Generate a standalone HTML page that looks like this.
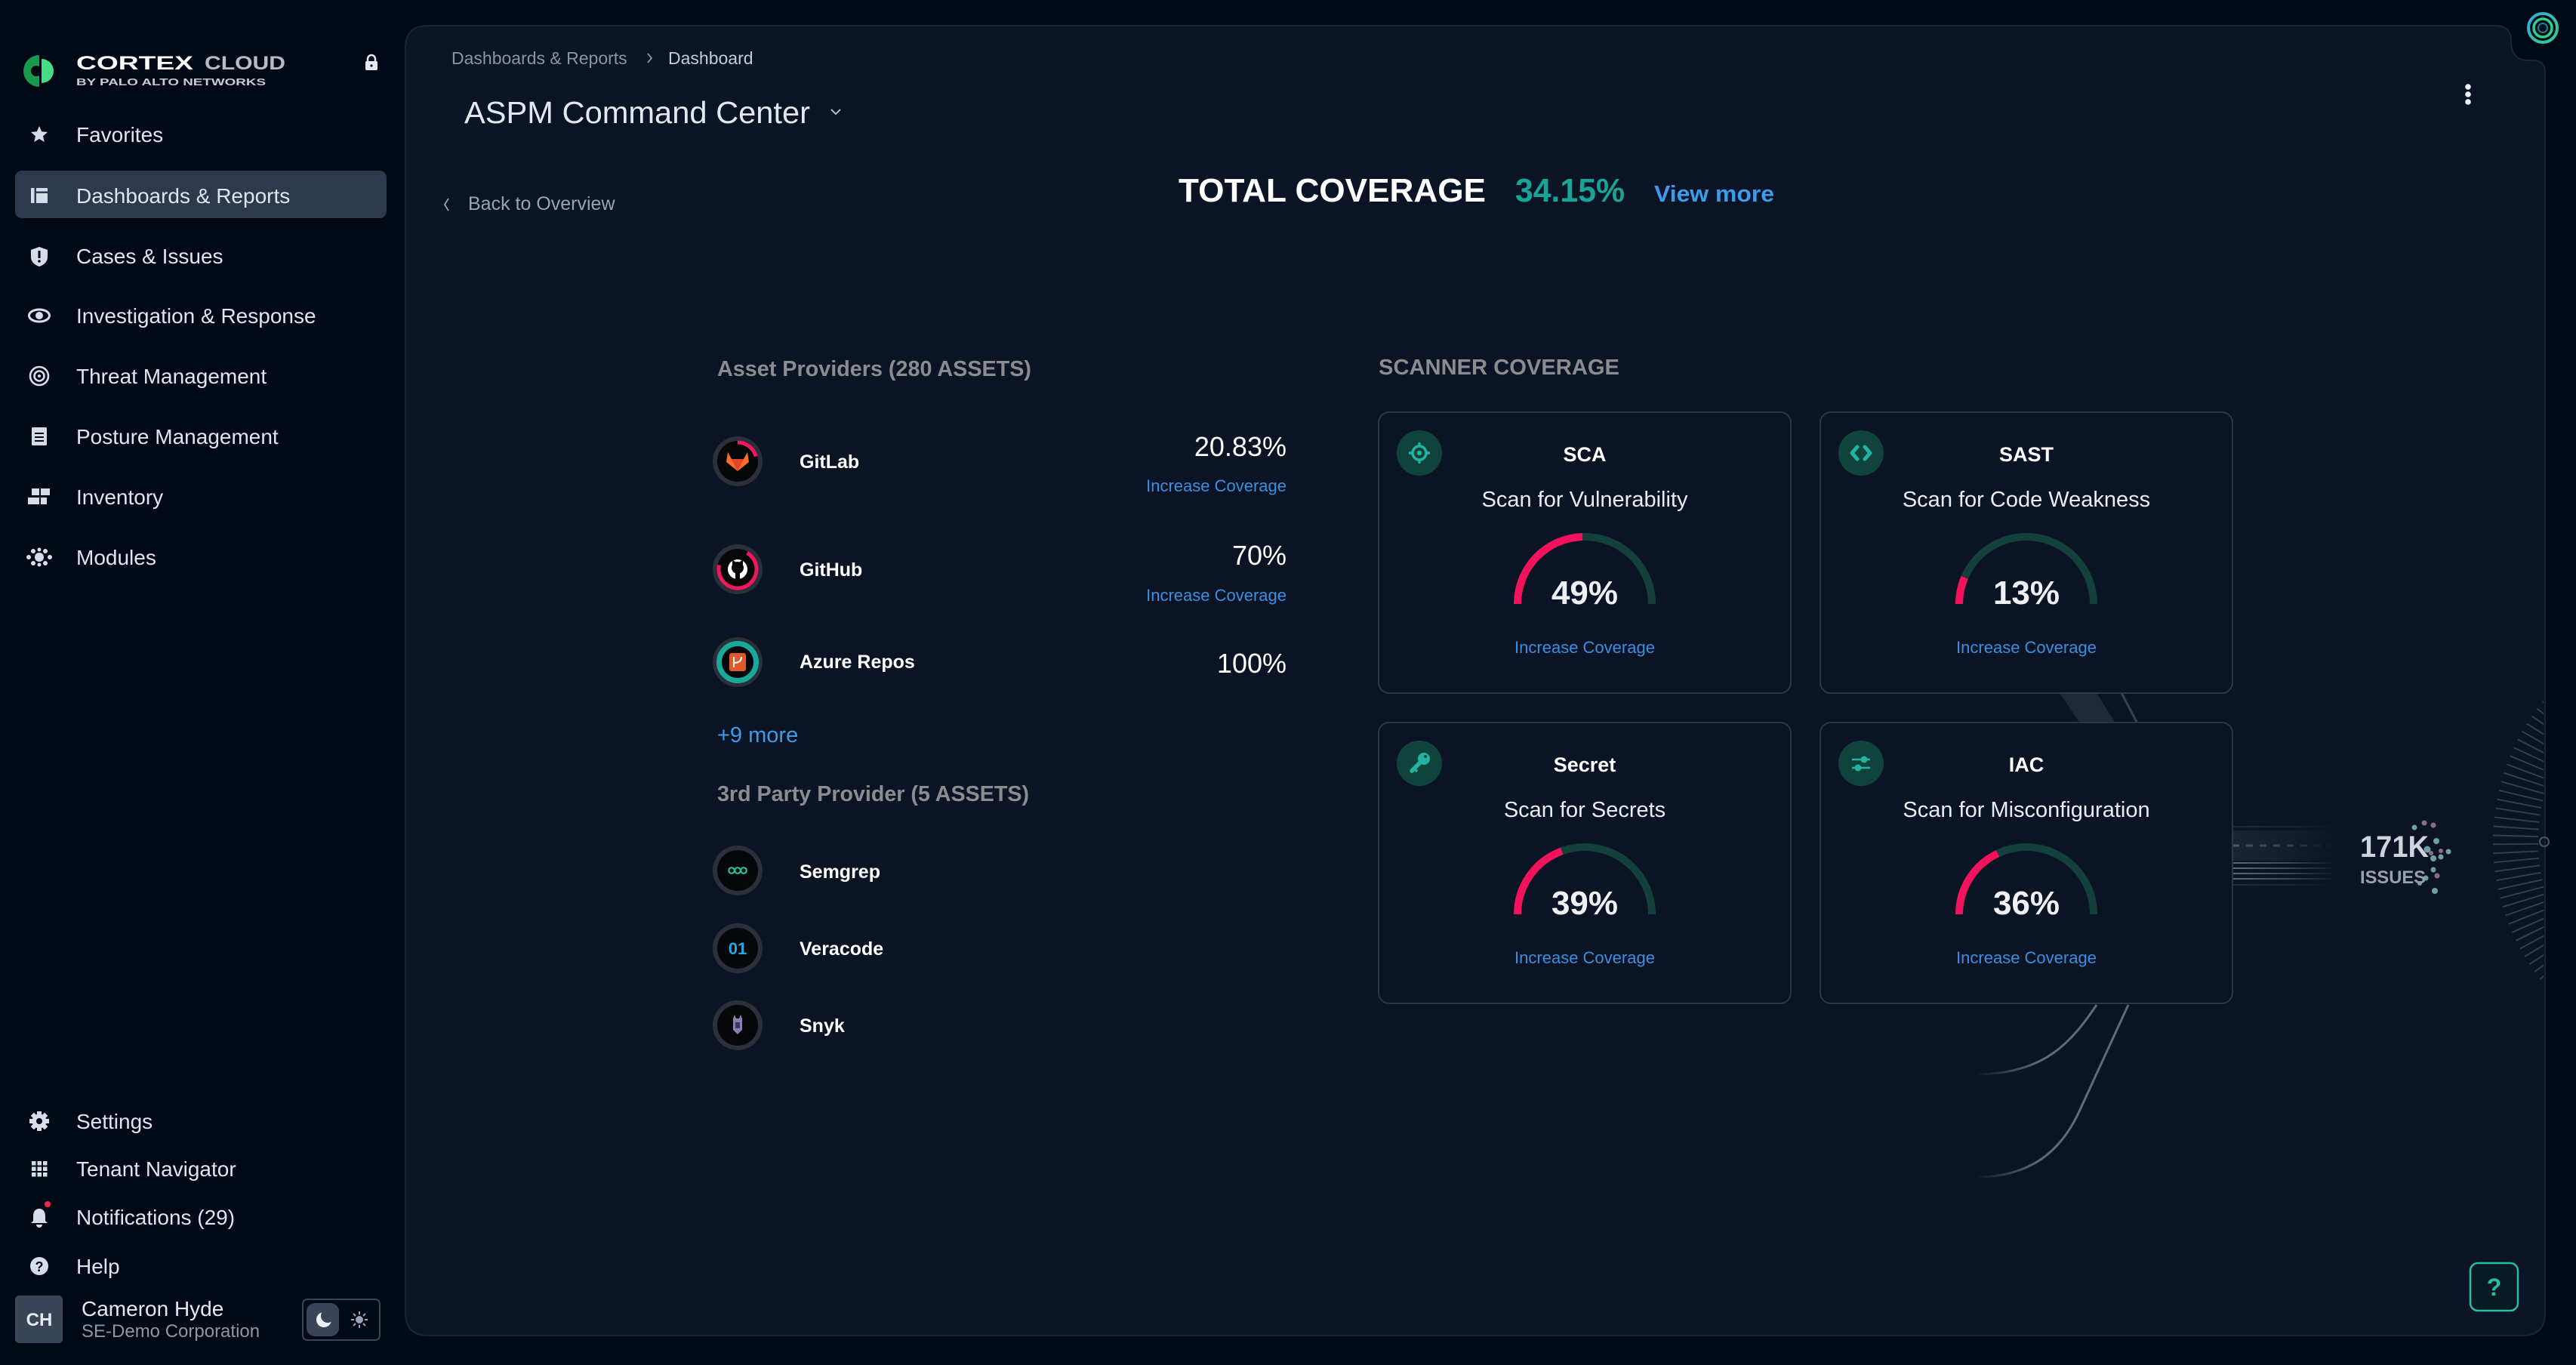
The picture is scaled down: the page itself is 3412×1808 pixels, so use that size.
<!DOCTYPE html>
<html><head><meta charset="utf-8"><style>
html,body{margin:0;padding:0;background:#020916;width:3412px;height:1808px;overflow:hidden}
svg{display:block}
text{font-family:"Liberation Sans",sans-serif}
</style></head><body>
<svg width="3412" height="1808" viewBox="0 0 3412 1808" xmlns="http://www.w3.org/2000/svg">
<defs>
<clipPath id="tickClip"><rect x="3200" y="900" width="169" height="440"/></clipPath>
<linearGradient id="fadeR" x1="2957" y1="0" x2="3095" y2="0" gradientUnits="userSpaceOnUse"><stop offset="0" stop-color="#fff" stop-opacity="1"/><stop offset="0.55" stop-color="#fff" stop-opacity="0.6"/><stop offset="1" stop-color="#fff" stop-opacity="0"/></linearGradient>
<mask id="bandMask"><rect x="2950" y="1085" width="160" height="100" fill="url(#fadeR)"/></mask>
<linearGradient id="curveG" x1="2617" y1="0" x2="2700" y2="0" gradientUnits="userSpaceOnUse"><stop offset="0" stop-color="#5f6979" stop-opacity="0"/><stop offset="1" stop-color="#5f6979" stop-opacity="1"/></linearGradient>
<linearGradient id="logoRing" x1="0" y1="0" x2="1" y2="1"><stop offset="0" stop-color="#3aa6e0"/><stop offset="1" stop-color="#2fd08a"/></linearGradient>
</defs>

<!-- main panel -->
<path d="M567,34 H3305 Q3326,34 3326,55 Q3326,80 3350,80 H3355 Q3371,80 3371,96 V1739 Q3371,1769 3341,1769 H567 Q537,1769 537,1739 V64 Q537,34 567,34 Z" fill="#0b1424" stroke="#1b2434" stroke-width="2"/>

<!-- top-right logo -->
<circle cx="3368" cy="37" r="19" fill="none" stroke="url(#logoRing)" stroke-width="4"/>
<circle cx="3368" cy="37" r="12" fill="none" stroke="#2fcf8c" stroke-width="3.5"/>
<circle cx="3368" cy="37" r="6" fill="#04101a" stroke="#1f7f9a" stroke-width="2"/>

<!-- ========== SIDEBAR ========== -->
<path d="M52,73 A21,21 0 0 0 52,115 Z" fill="#169a4b"/>
<path d="M55,78 A16,16 0 0 1 55,110 Z" fill="#44dd86"/>
<circle cx="48" cy="94" r="7" fill="#020916"/>
<text x="101" y="92" font-size="25" font-weight="700" fill="#ffffff" textLength="155" lengthAdjust="spacingAndGlyphs">CORTEX</text>
<text x="271" y="92" font-size="25" font-weight="700" fill="#b7bbc2" textLength="107" lengthAdjust="spacingAndGlyphs">CLOUD</text>
<text x="101" y="113" font-size="12.5" font-weight="700" fill="#c6cad1" textLength="251" lengthAdjust="spacingAndGlyphs">BY PALO ALTO NETWORKS</text>
<path d="M487,82 V78 A5,5 0 0 1 497,78 V82" fill="none" stroke="#e4e8ef" stroke-width="2.5"/>
<rect x="484" y="81" width="16" height="12" rx="2" fill="#e4e8ef"/>
<circle cx="492" cy="87" r="1.6" fill="#020916"/>

<rect x="20" y="226" width="492" height="63" rx="9" fill="#2f394d"/>

<g fill="#d6ddea">
<polygon points="52,167 55.2,174.3 63,175 57,180.2 58.8,188 52,184 45.2,188 47,180.2 41,175 48.8,174.3"/>
<rect x="41" y="249" width="4.5" height="20"/><rect x="48" y="249" width="15" height="20"/><rect x="48" y="253.5" width="15" height="2.5" fill="#2f394d"/>
<path d="M52,327 L63,331 V340 C63,347 58,351 52,353 C46,351 41,347 41,340 V331 Z"/>
<ellipse cx="52" cy="418" rx="13.5" ry="8" fill="none" stroke="#d6ddea" stroke-width="3"/>
<circle cx="52" cy="418" r="5"/>
<circle cx="52" cy="498" r="12" fill="none" stroke="#d6ddea" stroke-width="2.6"/>
<circle cx="52" cy="498" r="6.5" fill="none" stroke="#d6ddea" stroke-width="2.6"/>
<circle cx="52" cy="498" r="2"/>
<rect x="42" y="566" width="20" height="24" rx="1.5"/>
<rect x="42" y="647" width="10" height="9"/><rect x="54" y="647" width="12" height="9"/><rect x="37" y="659" width="15" height="9"/><rect x="54" y="659" width="8" height="9"/>
<circle cx="52" cy="738" r="6"/><circle cx="44" cy="730" r="3"/><circle cx="60" cy="730" r="3"/><circle cx="44" cy="746" r="3"/><circle cx="60" cy="746" r="3"/><circle cx="38" cy="738" r="3"/><circle cx="66" cy="738" r="3"/><circle cx="52" cy="728" r="2.5"/><circle cx="52" cy="748" r="2.5"/>
</g>
<g fill="#020916">
<rect x="50.5" y="332" width="3" height="10"/><circle cx="52" cy="346" r="1.8"/>
<rect x="46" y="573" width="12" height="2"/><rect x="46" y="578" width="12" height="2"/><rect x="46" y="583" width="12" height="2"/>
</g>

<g font-size="28" fill="#dfe5ee">
<text x="101" y="188">Favorites</text>
<text x="101" y="269">Dashboards &amp; Reports</text>
<text x="101" y="349">Cases &amp; Issues</text>
<text x="101" y="428">Investigation &amp; Response</text>
<text x="101" y="508">Threat Management</text>
<text x="101" y="588">Posture Management</text>
<text x="101" y="668">Inventory</text>
<text x="101" y="748">Modules</text>
<text x="101" y="1495">Settings</text>
<text x="101" y="1558">Tenant Navigator</text>
<text x="101" y="1622">Notifications (29)</text>
<text x="101" y="1687">Help</text>
</g>

<g fill="#d6ddea">
<g transform="translate(52,1485)">
<rect x="-3" y="-13" width="6" height="26"/><rect x="-3" y="-13" width="6" height="26" transform="rotate(45)"/><rect x="-3" y="-13" width="6" height="26" transform="rotate(90)"/><rect x="-3" y="-13" width="6" height="26" transform="rotate(135)"/>
<circle r="9.5"/><circle r="4" fill="#020916"/>
</g>
<g transform="translate(42,1538)">
<rect x="0" y="0" width="5.5" height="5.5"/><rect x="7.5" y="0" width="5.5" height="5.5"/><rect x="15" y="0" width="5.5" height="5.5"/>
<rect x="0" y="7.5" width="5.5" height="5.5"/><rect x="7.5" y="7.5" width="5.5" height="5.5"/><rect x="15" y="7.5" width="5.5" height="5.5"/>
<rect x="0" y="15" width="5.5" height="5.5"/><rect x="7.5" y="15" width="5.5" height="5.5"/><rect x="15" y="15" width="5.5" height="5.5"/>
</g>
<path d="M52,1601 C46,1601 44,1606 44,1611 V1617 L41,1620 H63 L60,1617 V1611 C60,1606 58,1601 52,1601 Z"/>
<path d="M48,1622 A4,4 0 0 0 56,1622 Z"/>
<circle cx="52" cy="1677" r="12"/>
</g>
<circle cx="63" cy="1595" r="4" fill="#f0264f"/>
<text x="52" y="1684" font-size="18" font-weight="700" fill="#020916" text-anchor="middle">?</text>

<rect x="20" y="1716" width="63" height="63" rx="5" fill="#3a4457"/>
<text x="52" y="1756" font-size="24" font-weight="700" fill="#e6e9ef" text-anchor="middle">CH</text>
<text x="108" y="1743" font-size="28" fill="#e4e8ef">Cameron Hyde</text>
<text x="108" y="1771" font-size="24" fill="#8c96a7">SE-Demo Corporation</text>
<rect x="401" y="1721" width="102" height="54" rx="6" fill="none" stroke="#3a4456" stroke-width="2"/>
<rect x="406" y="1726" width="43" height="44" rx="11" fill="#3a4458"/>
<circle cx="429" cy="1748" r="10" fill="#eef1f6"/>
<circle cx="434" cy="1743" r="9" fill="#3a4458"/>
<g stroke="#9aa6b8" stroke-width="2">
<line x1="476" y1="1737" x2="476" y2="1741"/><line x1="476" y1="1755" x2="476" y2="1759"/><line x1="465" y1="1748" x2="469" y2="1748"/><line x1="483" y1="1748" x2="487" y2="1748"/>
<line x1="468" y1="1740" x2="471" y2="1743"/><line x1="481" y1="1753" x2="484" y2="1756"/><line x1="484" y1="1740" x2="481" y2="1743"/><line x1="471" y1="1753" x2="468" y2="1756"/>
</g>
<circle cx="476" cy="1748" r="5" fill="#9aa6b8"/>

<!-- ========== HEADER ========== -->
<text x="598" y="85" font-size="23" fill="#8a94a6">Dashboards &amp; Reports</text>
<polyline points="858,71 863,77 858,83" fill="none" stroke="#8a94a6" stroke-width="1.8"/>
<text x="885" y="85" font-size="23" fill="#c4ccd8">Dashboard</text>
<text x="615" y="163" font-size="41" fill="#e3e8f0" textLength="458" lengthAdjust="spacingAndGlyphs">ASPM Command Center</text>
<polyline points="1101,145 1107,151 1113,145" fill="none" stroke="#b4bccb" stroke-width="2"/>
<circle cx="3269" cy="115" r="3.8" fill="#eef1f5"/><circle cx="3269" cy="125" r="3.8" fill="#eef1f5"/><circle cx="3269" cy="135" r="3.8" fill="#eef1f5"/>

<polyline points="594,263 589,271 594,279" fill="none" stroke="#9aa3b2" stroke-width="1.8"/>
<text x="620" y="278" font-size="25" fill="#9aa3b2">Back to Overview</text>

<text x="1561" y="267" font-size="44" font-weight="700" fill="#ffffff" textLength="407" lengthAdjust="spacingAndGlyphs">TOTAL COVERAGE</text>
<text x="2007" y="267" font-size="44" font-weight="700" fill="#16a596" textLength="145" lengthAdjust="spacingAndGlyphs">34.15%</text>
<text x="2191" y="267" font-size="31" font-weight="700" fill="#3d9be9" textLength="159" lengthAdjust="spacingAndGlyphs">View more</text>

<!-- ========== ASSET PROVIDERS ========== -->
<text x="950" y="498" font-size="29" font-weight="700" fill="#8b8c8f" textLength="416" lengthAdjust="spacingAndGlyphs">Asset Providers (280 ASSETS)</text>

<circle cx="977" cy="611" r="33" fill="#2a2f39"/>
<circle cx="977" cy="611" r="27" fill="#050709"/>
<circle cx="977" cy="611" r="25" fill="none" stroke="#f0175c" stroke-width="5" stroke-dasharray="32.7 200" transform="rotate(-90 977 611)"/>
<polygon points="964,599 969,608 985,608 990,599 992,612 977,624 962,612" fill="#fc6d26"/>
<polygon points="969,608 985,608 977,624" fill="#e24329"/>
<text x="1059" y="620" font-size="25" font-weight="700" fill="#ffffff">GitLab</text>
<text x="1704" y="604" font-size="36" fill="#ffffff" text-anchor="end">20.83%</text>
<text x="1704" y="651" font-size="22" fill="#3a8fe0" text-anchor="end">Increase Coverage</text>

<circle cx="977" cy="754" r="33" fill="#2a2f39"/>
<circle cx="977" cy="754" r="27" fill="#050709"/>
<circle cx="977" cy="754" r="25" fill="none" stroke="#f0175c" stroke-width="5" stroke-dasharray="110 200" transform="rotate(-60 977 754)"/>
<circle cx="977" cy="754" r="13" fill="#ffffff"/>
<circle cx="977" cy="752" r="8" fill="#050709"/>
<polygon points="970,748 970,741 975,745" fill="#050709"/>
<polygon points="984,748 984,741 979,745" fill="#050709"/>
<rect x="974" y="757" width="6" height="11" fill="#050709"/>
<text x="1059" y="763" font-size="25" font-weight="700" fill="#ffffff">GitHub</text>
<text x="1704" y="748" font-size="36" fill="#ffffff" text-anchor="end">70%</text>
<text x="1704" y="796" font-size="22" fill="#3a8fe0" text-anchor="end">Increase Coverage</text>

<circle cx="977" cy="877" r="33" fill="#2a2f39"/>
<circle cx="977" cy="877" r="24.5" fill="#050709" stroke="#18a99b" stroke-width="7"/>
<rect x="966" y="865" width="22" height="24" rx="3" fill="#e05a2b"/>
<path d="M972,870 V884 M972,878 Q982,878 982,870" fill="none" stroke="#fff" stroke-width="2"/>
<text x="1059" y="885" font-size="25" font-weight="700" fill="#ffffff">Azure Repos</text>
<text x="1704" y="891" font-size="36" fill="#ffffff" text-anchor="end">100%</text>

<text x="950" y="983" font-size="29" fill="#3d9be9">+9 more</text>

<text x="950" y="1061" font-size="29" font-weight="700" fill="#8b8c8f" textLength="413" lengthAdjust="spacingAndGlyphs">3rd Party Provider (5 ASSETS)</text>
<circle cx="977" cy="1153" r="33" fill="#2a2f39"/>
<circle cx="977" cy="1153" r="27" fill="#050709"/>
<g fill="none" stroke="#2bbf8f" stroke-width="2.2"><circle cx="969" cy="1153" r="3.8"/><circle cx="977" cy="1153" r="3.8"/><circle cx="985" cy="1153" r="3.8"/></g>
<text x="1059" y="1163" font-size="25" font-weight="700" fill="#ffffff">Semgrep</text>

<circle cx="977" cy="1256" r="33" fill="#2a2f39"/>
<circle cx="977" cy="1256" r="27" fill="#050709"/>
<text x="977" y="1264" font-size="22" font-weight="700" fill="#25a8e0" text-anchor="middle">01</text>
<text x="1059" y="1265" font-size="25" font-weight="700" fill="#ffffff">Veracode</text>

<circle cx="977" cy="1358" r="33" fill="#2a2f39"/>
<circle cx="977" cy="1358" r="27" fill="#050709"/>
<path d="M971,1349 L973,1344 L975,1349 H979 L981,1344 L983,1349 V1364 L977,1370 L971,1364 Z" fill="#8a80b0"/>
<rect x="974" y="1354" width="6" height="8" fill="#3f3860"/>
<text x="1059" y="1367" font-size="25" font-weight="700" fill="#ffffff">Snyk</text>

<!-- ========== SCANNER COVERAGE ========== -->
<text x="1826" y="496" font-size="29" font-weight="700" fill="#8b8c8f" textLength="319" lengthAdjust="spacingAndGlyphs">SCANNER COVERAGE</text>

<polygon points="2728,918 2777,918 2802,958 2755,958" fill="#1e2838"/>
<line x1="2810" y1="918" x2="2831" y2="958" stroke="#354050" stroke-width="3"/>
<path d="M2777,1331 C2745,1378 2710,1423 2617,1423" fill="none" stroke="url(#curveG)" stroke-width="3"/>
<path d="M2819,1331 L2755,1470 C2730,1525 2690,1559 2617,1559" fill="none" stroke="url(#curveG)" stroke-width="3"/>

<g mask="url(#bandMask)">
<rect x="2957" y="1100" width="140" height="40" fill="#1a2435"/>
<line x1="2957" y1="1095" x2="3100" y2="1095" stroke="#2a3445" stroke-width="1.5"/>
<line x1="2957" y1="1120" x2="3100" y2="1120" stroke="#4c5667" stroke-width="3" stroke-dasharray="9 9"/>
<g stroke="#5d6778" stroke-width="2"><line x1="2957" y1="1143" x2="3100" y2="1143"/><line x1="2957" y1="1150" x2="3100" y2="1150"/><line x1="2957" y1="1157" x2="3100" y2="1157"/><line x1="2957" y1="1164" x2="3100" y2="1164"/></g>
<line x1="2957" y1="1172" x2="3100" y2="1172" stroke="#2a3445" stroke-width="1.5"/>
</g>

<!-- radial ticks: left ends on circle r=296 around (3598,1115) -->
<g clip-path="url(#tickClip)">
<circle cx="3598" cy="1115" r="266" fill="none" stroke="#353f4f" stroke-width="60" stroke-dasharray="1.9 8.9"/>
</g>
<circle cx="3370" cy="1115" r="6" fill="none" stroke="#4a5465" stroke-width="2"/>

<g opacity="0.75">
<g fill="#8fd0cf"><circle cx="3198" cy="1096" r="3.5"/><circle cx="3227" cy="1114" r="4"/><circle cx="3243" cy="1128" r="3.5"/><circle cx="3223" cy="1137" r="4"/><circle cx="3233" cy="1135" r="3.5"/><circle cx="3225" cy="1180" r="4"/><circle cx="3213" cy="1163" r="3.5"/><circle cx="3205" cy="1170" r="3"/><circle cx="3215" cy="1125" r="4.5"/><circle cx="3223" cy="1152" r="3.5"/></g>
<g fill="#b58aa8"><circle cx="3211" cy="1090" r="3.5"/><circle cx="3223" cy="1093" r="3.5"/><circle cx="3220" cy="1130" r="3"/><circle cx="3233" cy="1127" r="3"/><circle cx="3228" cy="1160" r="3.5"/></g>
</g>
<text x="3126" y="1135" font-size="40" font-weight="700" fill="#cfd3da" textLength="91" lengthAdjust="spacingAndGlyphs">171K</text>
<text x="3126" y="1170" font-size="24" font-weight="700" fill="#9aa0a9" textLength="87" lengthAdjust="spacingAndGlyphs">ISSUES</text>

<g fill="#0b1424" stroke="#2d3647" stroke-width="2">
<rect x="1826" y="546" width="546" height="372" rx="14"/>
<rect x="2411" y="546" width="546" height="372" rx="14"/>
<rect x="1826" y="957" width="546" height="372" rx="14"/>
<rect x="2411" y="957" width="546" height="372" rx="14"/>
</g>
<g fill="#11433d">
<circle cx="1880" cy="600" r="30"/><circle cx="2465" cy="600" r="30"/><circle cx="1880" cy="1011" r="30"/><circle cx="2465" cy="1011" r="30"/>
</g>
<g stroke="#22b3a3" stroke-width="3.5" fill="none">
<circle cx="1880" cy="600" r="9"/>
<line x1="1880" y1="586" x2="1880" y2="591"/><line x1="1880" y1="609" x2="1880" y2="614"/><line x1="1866" y1="600" x2="1871" y2="600"/><line x1="1889" y1="600" x2="1894" y2="600"/>
</g>
<circle cx="1880" cy="600" r="3.2" fill="#22b3a3"/>
<g stroke="#22b3a3" stroke-width="5" fill="none" stroke-linecap="round" stroke-linejoin="round">
<polyline points="2460,592 2453,600 2460,608"/><polyline points="2470,592 2477,600 2470,608"/>
</g>
<circle cx="1886" cy="1005" r="8" fill="#22b3a3"/>
<line x1="1882" y1="1009" x2="1870" y2="1021" stroke="#22b3a3" stroke-width="5.5" stroke-linecap="round"/>
<line x1="1873" y1="1018" x2="1877" y2="1022" stroke="#22b3a3" stroke-width="3.5"/>
<circle cx="1888" cy="1002" r="2" fill="#11433d"/>
<g stroke="#22b3a3" stroke-width="2.5"><line x1="2453" y1="1006" x2="2477" y2="1006"/><line x1="2453" y1="1017" x2="2477" y2="1017"/></g>
<circle cx="2469" cy="1006" r="4.5" fill="#22b3a3"/><circle cx="2461" cy="1017" r="4.5" fill="#22b3a3"/>

<g font-size="27" font-weight="700" fill="#ffffff" text-anchor="middle">
<text x="2099" y="611">SCA</text><text x="2684" y="611">SAST</text><text x="2099" y="1022">Secret</text><text x="2684" y="1022">IAC</text>
</g>
<g font-size="29" fill="#e9edf3" text-anchor="middle">
<text x="2099" y="671">Scan for Vulnerability</text><text x="2684" y="671">Scan for Code Weakness</text><text x="2099" y="1082">Scan for Secrets</text><text x="2684" y="1082">Scan for Misconfiguration</text>
</g>
<g fill="none" stroke-width="10">
<path d="M2010,800 A89,89 0 0 1 2096.2,711" stroke="#f2135c"/><path d="M2096.2,711 A89,89 0 0 1 2188,800" stroke="#14403b"/>
<path d="M2595,800 A89,89 0 0 1 2602.3,764.7" stroke="#f2135c"/><path d="M2602.3,764.7 A89,89 0 0 1 2773,800" stroke="#14403b"/>
<path d="M2010,1211 A89,89 0 0 1 2068.9,1127.3" stroke="#f2135c"/><path d="M2068.9,1127.3 A89,89 0 0 1 2188,1211" stroke="#14403b"/>
<path d="M2595,1211 A89,89 0 0 1 2646.1,1130.5" stroke="#f2135c"/><path d="M2646.1,1130.5 A89,89 0 0 1 2773,1211" stroke="#14403b"/>
</g>
<g font-size="44" font-weight="700" fill="#eef0f4" text-anchor="middle">
<text x="2099" y="800">49%</text><text x="2684" y="800">13%</text><text x="2099" y="1211">39%</text><text x="2684" y="1211">36%</text>
</g>
<g font-size="22" fill="#3a8fe0" text-anchor="middle">
<text x="2099" y="865">Increase Coverage</text><text x="2684" y="865">Increase Coverage</text><text x="2099" y="1276">Increase Coverage</text><text x="2684" y="1276">Increase Coverage</text>
</g>

<rect x="3272" y="1673" width="63" height="63" rx="10" fill="#0a1a22" stroke="#27bca5" stroke-width="2.5"/>
<text x="3303.5" y="1716" font-size="32" font-weight="700" fill="#27bca5" text-anchor="middle">?</text>
</svg>
</body></html>
